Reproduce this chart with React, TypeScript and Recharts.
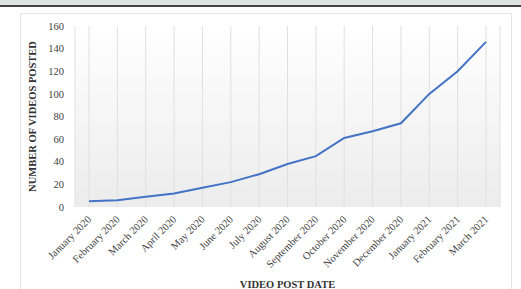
import React from 'react';
import { LineChart, Line, XAxis, YAxis, CartesianGrid, Label } from 'recharts';

const months = [
  'January 2020', 'February 2020', 'March 2020', 'April 2020', 'May 2020', 'June 2020',
  'July 2020', 'August 2020', 'September 2020', 'October 2020', 'November 2020',
  'December 2020', 'January 2021', 'February 2021', 'March 2021',
];
const videosPosted = [5, 6, 9, 12, 17, 22, 29, 38, 45, 61, 67, 74, 100, 120, 146];
const yTicks = [0, 20, 40, 60, 80, 100, 120, 140, 160];

const data = months.map((m, i) => ({ month: m, videos: videosPosted[i] }));

const font = '"Liberation Serif", "Times New Roman", serif';

const MonthTick = (props: any) => {
  const { x, y, payload } = props;
  return (
    <text
      x={x + 3}
      y={y + 5}
      transform={`rotate(-45, ${x + 3}, ${y + 5})`}
      textAnchor="end"
      fontFamily={font}
      fontSize={10.5}
      fill="#404040"
    >
      {payload.value}
    </text>
  );
};

export default function App() {
  return (
    <div style={{ position: 'absolute', left: 0, top: 0, width: 521, height: 289, background: '#fff', overflow: 'hidden' }}>
      <div style={{ position: 'absolute', left: 0, top: 0, width: 521, height: 5, background: '#dde3e3' }} />
      <div style={{ position: 'absolute', left: 0, top: 5, width: 521, height: 2, background: '#444' }} />
      <div style={{ position: 'absolute', left: 20, top: 13, width: 492, height: 290, border: '1px solid #e6e6e6', boxSizing: 'border-box' }} />
      <div style={{ position: 'absolute', left: 0, top: 0 }}>
        <LineChart width={521} height={289} data={data} margin={{ top: 26, right: 21, bottom: 0, left: 22 }}>
          <defs>
            <linearGradient id="plotBg" x1="0" y1="0" x2="0" y2="1">
              <stop offset="0%" stopColor="#ffffff" />
              <stop offset="100%" stopColor="#ececec" />
            </linearGradient>
          </defs>
          <CartesianGrid horizontal={false} vertical stroke="#e0e0e0" fill="url(#plotBg)" />
          <XAxis
            dataKey="month"
            interval={0}
            padding={{ left: 14, right: 14 }}
            height={82}
            axisLine={false}
            tickLine={false}
            tick={<MonthTick />}
          >
            <Label value="VIDEO POST DATE" position="insideBottom" offset={1} fontFamily={font} fontSize={10.5} fontWeight="bold" fill="#333" />
          </XAxis>
          <YAxis
            domain={[0, 160]}
            ticks={yTicks}
            width={53}
            axisLine={false}
            tickLine={false}
            tick={{ fontFamily: font, fontSize: 10.5, fill: '#404040' }}
            tickMargin={5}
          >
            <Label
              value="NUMBER OF VIDEOS POSTED"
              angle={-90}
              position="insideLeft"
              offset={10}
              style={{ textAnchor: 'middle' }}
              fontFamily={font}
              fontSize={10.5}
              fontWeight="bold"
              fill="#333"
            />
          </YAxis>
          <Line
            type="linear"
            dataKey="videos"
            stroke="#4472C4"
            strokeWidth={2}
            dot={false}
            isAnimationActive={false}
          />
        </LineChart>
      </div>
    </div>
  );
}
